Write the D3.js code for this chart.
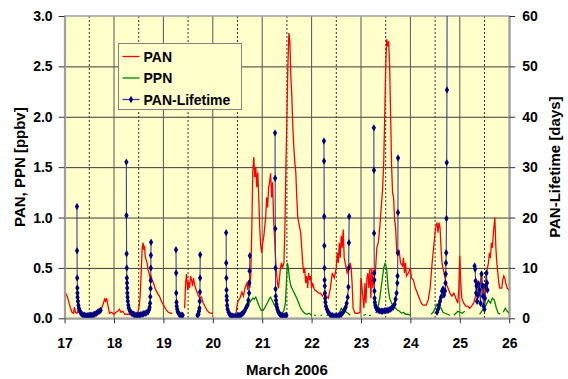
<!DOCTYPE html>
<html>
<head>
<meta charset="utf-8">
<script src="https://cdn.jsdelivr.net/npm/d3@7/dist/d3.min.js"></script>
<style>
  body { margin: 0; background: #fff; }
  text { font-family: Arial, "Liberation Sans", sans-serif; font-weight: bold; fill: #000; }
</style>
</head>
<body>
<div id="graph"></div>
<script>
// ---- data ----
const dayTicks = [17, 18, 19, 20, 21, 22, 23, 24, 25, 26];
const halfDays = [17.5, 18.5, 19.5, 20.5, 21.5, 22.5, 23.5, 24.5, 25.5];
const panTicks = [0, 0.5, 1.0, 1.5, 2.0, 2.5, 3.0];
const lifeTicks = [0, 10, 20, 30, 40, 50, 60];
const seriesNames = ["PAN", "PPN", "PAN-Lifetime"];

// [day, ppbv], null = gap
const pan = [
  [17.00,0.27],[17.03,0.24],[17.06,0.21],[17.09,0.15],[17.12,0.10],[17.15,0.06],[17.18,0.05],[17.20,0.11],[17.22,0.06],[17.25,0.05],[17.28,0.08],[17.31,0.05],[17.34,0.04],null,
  [17.70,0.06],[17.74,0.09],[17.78,0.14],[17.81,0.19],[17.83,0.17],[17.85,0.20],[17.88,0.12],[17.91,0.05],[17.95,0.06],[18.00,0.04],[18.04,0.06],[18.08,0.07],[18.11,0.09],[18.14,0.06],[18.18,0.07],[18.22,0.04],[18.28,0.04],[18.35,0.04],[18.42,0.03],[18.48,0.05],
  [18.51,0.12],[18.53,0.22],[18.55,0.45],[18.57,0.70],[18.59,0.75],[18.60,0.68],[18.62,0.72],[18.63,0.62],[18.65,0.58],[18.67,0.55],[18.69,0.48],[18.71,0.45],[18.73,0.40],[18.75,0.42],[18.77,0.38],[18.80,0.35],[18.83,0.30],[18.86,0.27],[18.89,0.24],[18.92,0.22],[18.95,0.18],[18.98,0.15],[19.02,0.12],[19.06,0.08],[19.10,0.06],[19.15,0.05],[19.18,0.05],null,
  [19.43,0.10],[19.45,0.35],[19.47,0.44],[19.49,0.28],[19.51,0.36],[19.53,0.30],[19.55,0.42],[19.57,0.38],[19.59,0.32],[19.61,0.40],[19.63,0.34],[19.65,0.30],[19.68,0.26],[19.71,0.22],[19.74,0.20],[19.77,0.21],[19.80,0.16],[19.84,0.12],[19.88,0.08],[19.92,0.06],[19.97,0.05],[20.00,0.05],null,
  [20.47,0.05],[20.49,0.12],[20.51,0.17],[20.55,0.20],[20.59,0.26],[20.62,0.22],[20.65,0.30],[20.69,0.35],[20.71,0.28],[20.73,0.38],[20.75,0.30],[20.77,0.44],[20.79,0.90],[20.81,1.45],[20.83,1.60],[20.85,1.40],[20.87,1.50],[20.89,1.30],[20.91,1.45],[20.93,1.20],[20.95,0.90],[20.97,0.72],[20.99,0.65],
  [21.01,0.75],[21.03,0.80],[21.05,0.90],[21.07,1.00],[21.09,1.20],[21.11,1.10],[21.13,1.30],[21.15,1.35],[21.17,1.44],[21.19,1.20],[21.21,1.35],[21.23,1.00],[21.25,0.80],[21.27,0.60],[21.29,0.45],[21.31,0.35],[21.33,0.30],[21.35,0.40],[21.37,0.50],[21.39,0.55],[21.41,0.50],[21.44,0.55],[21.46,0.90],[21.48,1.50],[21.50,2.00],[21.52,2.50],[21.54,2.83],[21.56,2.75],[21.58,2.40],[21.60,2.20],[21.62,1.90],[21.64,1.70],[21.66,1.55],[21.68,1.45],[21.70,1.20],[21.72,1.00],[21.76,0.90],[21.78,0.85],[21.80,0.70],[21.82,0.55],[21.84,0.45],[21.86,0.50],[21.88,0.35],[21.90,0.42],[21.92,0.30],[21.94,0.45],[21.96,0.38],[21.98,0.42],
  [22.00,0.30],[22.02,0.35],[22.06,0.28],[22.10,0.27],[22.14,0.25],[22.18,0.25],[22.22,0.22],[22.26,0.25],[22.30,0.22],[22.34,0.20],[22.38,0.30],[22.42,0.45],[22.46,0.40],[22.50,0.50],[22.52,0.65],[22.54,0.55],[22.56,0.75],[22.58,0.60],[22.60,0.82],[22.62,0.70],[22.64,0.88],[22.66,0.60],[22.68,0.55],[22.70,0.50],[22.72,0.45],[22.76,0.50],[22.78,0.55],[22.80,0.50],[22.82,0.35],[22.84,0.10],[22.88,0.05],[22.94,0.05],[22.98,0.06],
  [23.00,0.40],[23.02,0.30],[23.04,0.20],[23.06,0.10],[23.08,0.35],[23.10,0.15],[23.12,0.40],[23.14,0.45],[23.16,0.30],[23.18,0.50],[23.20,0.20],[23.22,0.50],[23.24,0.30],[23.26,0.40],[23.29,0.45],[23.32,0.70],[23.35,0.75],[23.38,0.90],[23.41,1.10],[23.44,1.30],[23.46,1.55],[23.48,2.00],[23.50,2.50],[23.52,2.77],[23.54,2.70],[23.56,2.75],[23.58,2.50],[23.60,2.00],[23.62,1.50],[23.64,1.24],[23.66,1.20],[23.68,0.98],[23.70,0.90],[23.72,0.70],[23.74,0.62],[23.77,0.68],[23.80,0.55],[23.84,0.52],[23.86,0.60],[23.88,0.45],[23.90,0.55],[23.92,0.42],[23.96,0.45],
  [24.00,0.50],[24.02,0.40],[24.06,0.38],[24.10,0.30],[24.14,0.25],[24.18,0.20],[24.22,0.15],[24.26,0.13],[24.32,0.13],[24.36,0.18],[24.40,0.30],[24.44,0.55],[24.48,0.75],[24.50,0.85],[24.52,0.92],[24.54,0.95],[24.56,0.85],[24.58,0.95],[24.60,0.90],[24.62,0.70],[24.64,0.55],[24.66,0.50],[24.68,0.45],[24.70,0.40],[24.72,0.35],[24.76,0.30],[24.80,0.25],[24.84,0.22],[24.88,0.25],[24.92,0.20],[24.96,0.15],[24.98,0.30],
  [25.00,0.62],[25.02,0.35],[25.04,0.20],[25.08,0.15],[25.12,0.12],[25.16,0.12],[25.20,0.10],[25.24,0.12],[25.28,0.15],[25.32,0.22],[25.36,0.35],[25.40,0.30],[25.44,0.45],[25.46,0.20],[25.48,0.35],[25.50,0.10],[25.52,0.30],[25.54,0.45],[25.56,0.50],[25.58,0.55],[25.60,0.65],[25.62,0.60],[25.64,0.75],[25.66,0.70],[25.68,0.85],[25.71,1.00],[25.73,0.70],[25.75,0.55],[25.77,0.45],[25.79,0.35],[25.81,0.30],[25.85,0.30],[25.87,0.38],[25.89,0.42],[25.91,0.40],[25.93,0.35],[25.96,0.30],[26.00,0.28]
];

const ppn = [
  [20.70,0.10],[20.74,0.15],[20.78,0.18],[20.81,0.20],[20.84,0.19],[20.87,0.21],[20.90,0.17],[20.94,0.12],[20.98,0.08],[21.02,0.08],[21.06,0.11],[21.10,0.15],[21.14,0.19],[21.17,0.21],[21.20,0.18],[21.24,0.14],[21.28,0.10],[21.32,0.07],[21.36,0.05],[21.40,0.05],[21.44,0.08],[21.47,0.15],[21.49,0.35],[21.51,0.55],[21.53,0.50],[21.55,0.40],[21.58,0.32],[21.62,0.28],[21.66,0.24],[21.70,0.20],[21.74,0.15],[21.78,0.10],[21.82,0.07],[21.86,0.05],[21.90,0.04],[21.95,0.05],[22.00,0.03],null,
  [22.05,0.03],[22.09,0.03],null,[22.18,0.03],[22.21,0.03],null,[22.30,0.03],[22.33,0.03],null,
  [22.56,0.05],[22.60,0.10],[22.63,0.08],[22.67,0.10],[22.70,0.06],[22.74,0.05],[22.78,0.03],null,
  [23.05,0.03],[23.10,0.04],null,[23.16,0.03],[23.20,0.03],null,
  [23.30,0.05],[23.34,0.10],[23.38,0.20],[23.42,0.35],[23.46,0.50],[23.49,0.55],[23.52,0.48],[23.55,0.30],[23.58,0.20],[23.62,0.15],[23.66,0.12],[23.70,0.10],[23.74,0.08],[23.78,0.07],[23.82,0.05],[23.86,0.06],[23.90,0.04],[23.95,0.04],[24.00,0.03],null,
  [24.42,0.04],[24.46,0.06],[24.50,0.10],[24.54,0.14],[24.58,0.12],[24.62,0.10],[24.66,0.06],[24.70,0.05],[24.75,0.04],[24.80,0.03],null,
  [24.88,0.03],[24.92,0.05],[24.96,0.07],[25.00,0.06],[25.05,0.05],[25.10,0.07],null,
  [25.40,0.04],[25.46,0.08],[25.52,0.12],[25.58,0.18],[25.62,0.15],[25.66,0.20],[25.70,0.18],[25.74,0.10],[25.78,0.05],[25.82,0.04],null,
  [25.88,0.06],[25.92,0.10],[25.96,0.07],[26.00,0.05]
];

// [day, lifetime in days], null = gap
const lifetime = [
  [17.25,22.2],[17.252,13.4],[17.255,8.0],[17.258,6.0],[17.26,5.0],[17.263,4.2],[17.27,3.4],[17.28,2.6],[17.29,2.0],[17.30,1.6],[17.32,1.2],[17.34,0.9],[17.37,0.7],[17.40,0.6],[17.43,0.5],[17.46,0.5],[17.49,0.5],[17.52,0.6],[17.55,0.6],[17.58,0.7],[17.61,0.8],[17.64,1.0],[17.67,1.2],[17.70,1.4],[17.73,1.6],null,
  [18.25,31.0],[18.252,20.4],[18.255,12.8],[18.258,10.0],[18.26,8.0],[18.263,7.0],[18.267,6.0],[18.27,5.0],[18.275,4.2],[18.28,3.4],[18.29,2.6],[18.30,2.0],[18.32,1.5],[18.34,1.2],[18.36,1.0],[18.39,0.8],[18.42,0.7],[18.45,0.6],[18.48,0.6],[18.51,0.6],[18.54,0.7],[18.57,0.8],[18.60,0.9],[18.63,1.0],[18.66,1.1],[18.69,1.3],[18.71,1.7],[18.72,2.2],[18.73,3.0],[18.735,4.3],[18.74,5.9],[18.742,7.5],[18.745,10.0],[18.747,12.5],[18.75,15.1],null,
  [19.255,13.6],[19.258,9.0],[19.26,5.0],[19.265,3.2],[19.27,2.4],[19.28,1.8],[19.29,1.3],[19.31,1.0],[19.33,0.7],[19.36,0.6],[19.39,0.6],null,
  [19.69,0.6],[19.71,0.8],[19.72,1.4],[19.73,2.0],[19.735,3.4],[19.74,5.2],[19.742,8.0],[19.745,12.6],null,
  [20.27,17.0],[20.272,11.0],[20.275,8.0],[20.278,5.6],[20.28,4.4],[20.285,3.6],[20.29,2.6],[20.30,1.8],[20.32,1.2],[20.34,0.8],[20.37,0.5],[20.40,0.4],[20.43,0.4],[20.46,0.4],[20.49,0.4],[20.52,0.5],[20.55,0.6],[20.58,0.8],[20.61,1.0],[20.64,1.4],[20.67,2.0],[20.70,2.6],[20.72,3.6],[20.735,5.0],[20.74,7.0],[20.745,9.4],[20.75,12.4],null,
  [21.26,36.8],[21.262,27.8],[21.265,17.8],[21.268,10.0],[21.27,5.8],[21.275,4.4],[21.28,3.6],[21.29,2.8],[21.30,2.2],[21.31,1.7],[21.33,1.2],[21.35,0.9],[21.38,0.6],[21.41,0.5],[21.44,0.5],[21.47,0.5],[21.49,0.6],null,
  [22.25,35.2],[22.252,31.2],[22.255,20.2],[22.258,14.4],[22.26,10.0],[22.263,7.6],[22.267,6.4],[22.27,5.0],[22.275,4.0],[22.28,3.2],[22.29,2.4],[22.31,1.8],[22.33,1.3],[22.36,0.9],[22.39,0.6],[22.42,0.5],[22.45,0.4],[22.48,0.4],[22.51,0.4],[22.54,0.5],[22.57,0.6],[22.60,0.8],[22.63,1.1],[22.66,1.6],[22.69,2.2],[22.71,3.0],[22.73,4.2],[22.745,6.2],[22.75,10.0],[22.755,15.0],[22.76,20.2],null,
  [23.26,37.8],[23.262,29.4],[23.265,16.9],[23.268,9.0],[23.27,7.6],[23.272,5.4],[23.275,4.0],[23.28,3.2],[23.29,2.6],[23.30,2.2],[23.32,1.8],[23.35,1.6],[23.38,1.5],[23.41,1.4],[23.44,1.4],[23.47,1.5],[23.50,1.5],[23.53,1.6],[23.56,1.6],[23.59,1.8],[23.62,2.0],[23.65,2.2],[23.68,2.8],[23.70,3.8],[23.72,5.0],[23.735,7.0],[23.74,8.4],[23.745,13.0],[23.748,21.0],[23.75,31.8],null,
  [24.54,1.2],[24.56,1.8],[24.58,2.6],[24.60,3.4],[24.62,4.2],[24.64,5.4],[24.66,5.8],[24.68,4.6],[24.70,5.4],[24.71,7.0],[24.715,8.8],[24.72,11.0],[24.725,13.0],[24.73,19.8],[24.735,30.9],[24.74,45.3],[24.745,75.0],null,
  [25.30,10.4],[25.31,9.8],[25.32,7.4],[25.33,5.0],[25.34,6.4],[25.35,3.4],[25.37,4.6],[25.38,6.8],[25.40,5.6],[25.42,3.0],[25.44,8.8],[25.46,6.4],[25.47,4.4],[25.48,2.4],[25.50,1.8],[25.51,4.0],[25.52,6.4],[25.54,9.0],[25.55,7.0],[25.56,5.6]
];

const colors = { PAN: "#ff0000", PPN: "#008000", "PAN-Lifetime": "#000080" };

// ---- layout ----
const width = 568, height = 379;
const plot = { left: 64.6, right: 509.2, top: 16, bottom: 318.3 };

const svg = d3.select("#graph")
  .append("svg")
  .attr("width", width)
  .attr("height", height);

const x = d3.scaleLinear().domain([17, 26]).range([plot.left, plot.right]);
const y = d3.scaleLinear().domain([0, 3]).range([plot.bottom, plot.top]);
const yLife = d3.scaleLinear().domain([0, 60]).range([plot.bottom, plot.top]);

// plot background
svg.append("rect")
  .attr("x", plot.left)
  .attr("y", plot.top)
  .attr("width", plot.right - plot.left)
  .attr("height", plot.bottom - plot.top)
  .attr("fill", "#ffffcc");

svg.append("clipPath")
  .attr("id", "clip")
  .append("rect")
  .attr("x", plot.left)
  .attr("y", plot.top)
  .attr("width", plot.right - plot.left)
  .attr("height", plot.bottom - plot.top);

// grid
const grid = svg.append("g");
grid.selectAll(".hgrid")
  .data(panTicks.filter(d => d > 0 && d < 3))
  .enter()
  .append("line")
    .attr("x1", plot.left).attr("x2", plot.right)
    .attr("y1", d => y(d) + 0.5).attr("y2", d => y(d) + 0.5)
    .attr("stroke", "#3a3a3a")
    .attr("stroke-width", 1);

grid.selectAll(".vgrid")
  .data(dayTicks.slice(1, -1))
  .enter()
  .append("line")
    .attr("x1", d => x(d)).attr("x2", d => x(d))
    .attr("y1", plot.top).attr("y2", plot.bottom)
    .attr("stroke", "#555")
    .attr("stroke-width", 1);

grid.selectAll(".halfgrid")
  .data(halfDays)
  .enter()
  .append("line")
    .attr("x1", d => x(d)).attr("x2", d => x(d))
    .attr("y1", plot.top).attr("y2", plot.bottom)
    .attr("stroke", "#333")
    .attr("stroke-width", 1)
    .attr("stroke-dasharray", "2,2");

// plot frame
svg.append("rect")
  .attr("x", plot.left)
  .attr("y", plot.top)
  .attr("width", plot.right - plot.left)
  .attr("height", plot.bottom - plot.top)
  .attr("fill", "none")
  .attr("stroke", "#a0a0a0")
  .attr("stroke-width", 1.5);

// series
const marks = svg.append("g").attr("clip-path", "url(#clip)");

const line = d3.line()
  .defined(d => d !== null)
  .x(d => x(d[0]))
  .y(d => y(d[1]));

const lifeLine = d3.line()
  .defined(d => d !== null)
  .x(d => x(d[0]))
  .y(d => yLife(d[1]));

marks.append("path")
  .datum(pan)
  .attr("d", line)
  .attr("fill", "none")
  .attr("stroke", colors.PAN)
  .attr("stroke-width", 1.3);

marks.append("path")
  .datum(ppn)
  .attr("d", line)
  .attr("fill", "none")
  .attr("stroke", colors.PPN)
  .attr("stroke-width", 1.3);

marks.append("path")
  .datum(lifetime)
  .attr("d", lifeLine)
  .attr("fill", "none")
  .attr("stroke", "#3c3c96")
  .attr("stroke-width", 1.1);

const diamond = d3.symbol().type(d3.symbolDiamond).size(16);
marks.selectAll(".pt")
  .data(lifetime.filter(d => d !== null))
  .enter()
  .append("path")
    .attr("d", diamond)
    .attr("transform", d => "translate(" + x(d[0]) + "," + yLife(d[1]) + ")")
    .attr("fill", colors["PAN-Lifetime"]);

// axes
const axisLeft = svg.append("g")
  .attr("transform", "translate(" + plot.left + ",0)")
  .call(d3.axisLeft(y).tickValues(panTicks).tickFormat(d3.format(".1f")).tickSize(6).tickSizeOuter(0).tickPadding(6));

const axisRight = svg.append("g")
  .attr("transform", "translate(" + plot.right + ",0)")
  .call(d3.axisRight(yLife).tickValues(lifeTicks).tickSize(6).tickSizeOuter(0).tickPadding(7));

const axisBottom = svg.append("g")
  .attr("transform", "translate(0," + plot.bottom + ")")
  .call(d3.axisBottom(x).tickValues(dayTicks).tickFormat(d3.format("d")).tickSize(5).tickSizeOuter(0).tickPadding(15));

[axisLeft, axisRight, axisBottom].forEach(a => {
  a.select(".domain").attr("stroke", "#a0a0a0").attr("stroke-width", 2);
  a.selectAll(".tick line").attr("stroke", "#333");
  a.selectAll("text")
    .style("font-size", "14px")
    .style("font-weight", "bold")
    .attr("fill", "#000");
});

// axis titles
svg.append("text")
  .attr("transform", "translate(25," + (plot.top + plot.bottom) / 2 + ")rotate(-90)")
  .attr("text-anchor", "middle")
  .style("font-size", "15px")
  .text("PAN, PPN [ppbv]");

svg.append("text")
  .attr("transform", "translate(560," + (plot.top + plot.bottom) / 2 + ")rotate(-90)")
  .attr("text-anchor", "middle")
  .style("font-size", "15px")
  .text("PAN-Lifetime [days]");

svg.append("text")
  .attr("x", (plot.left + plot.right) / 2)
  .attr("y", 375)
  .attr("text-anchor", "middle")
  .style("font-size", "15px")
  .text("March 2006");

// legend
const legend = svg.append("g").attr("transform", "translate(118.5,43.5)");
legend.append("rect")
  .attr("width", 123)
  .attr("height", 66)
  .attr("fill", "#ffffcc")
  .attr("stroke", "#808080")
  .attr("stroke-width", 1);

const item = legend.selectAll(".item")
  .data(seriesNames)
  .enter()
  .append("g")
    .attr("transform", (d, i) => "translate(0," + (13 + i * 21.5) + ")");

item.append("line")
  .attr("x1", 4).attr("x2", 21)
  .attr("stroke", d => d === "PAN-Lifetime" ? "#3c3c96" : colors[d])
  .attr("stroke-width", 1.3);

item.filter(d => d === "PAN-Lifetime")
  .append("path")
    .attr("d", diamond)
    .attr("transform", "translate(12.5,0)")
    .attr("fill", colors["PAN-Lifetime"]);

item.append("text")
  .attr("x", 25)
  .attr("y", 5)
  .style("font-size", "14px")
  .text(d => d);
</script>
</body>
</html>
